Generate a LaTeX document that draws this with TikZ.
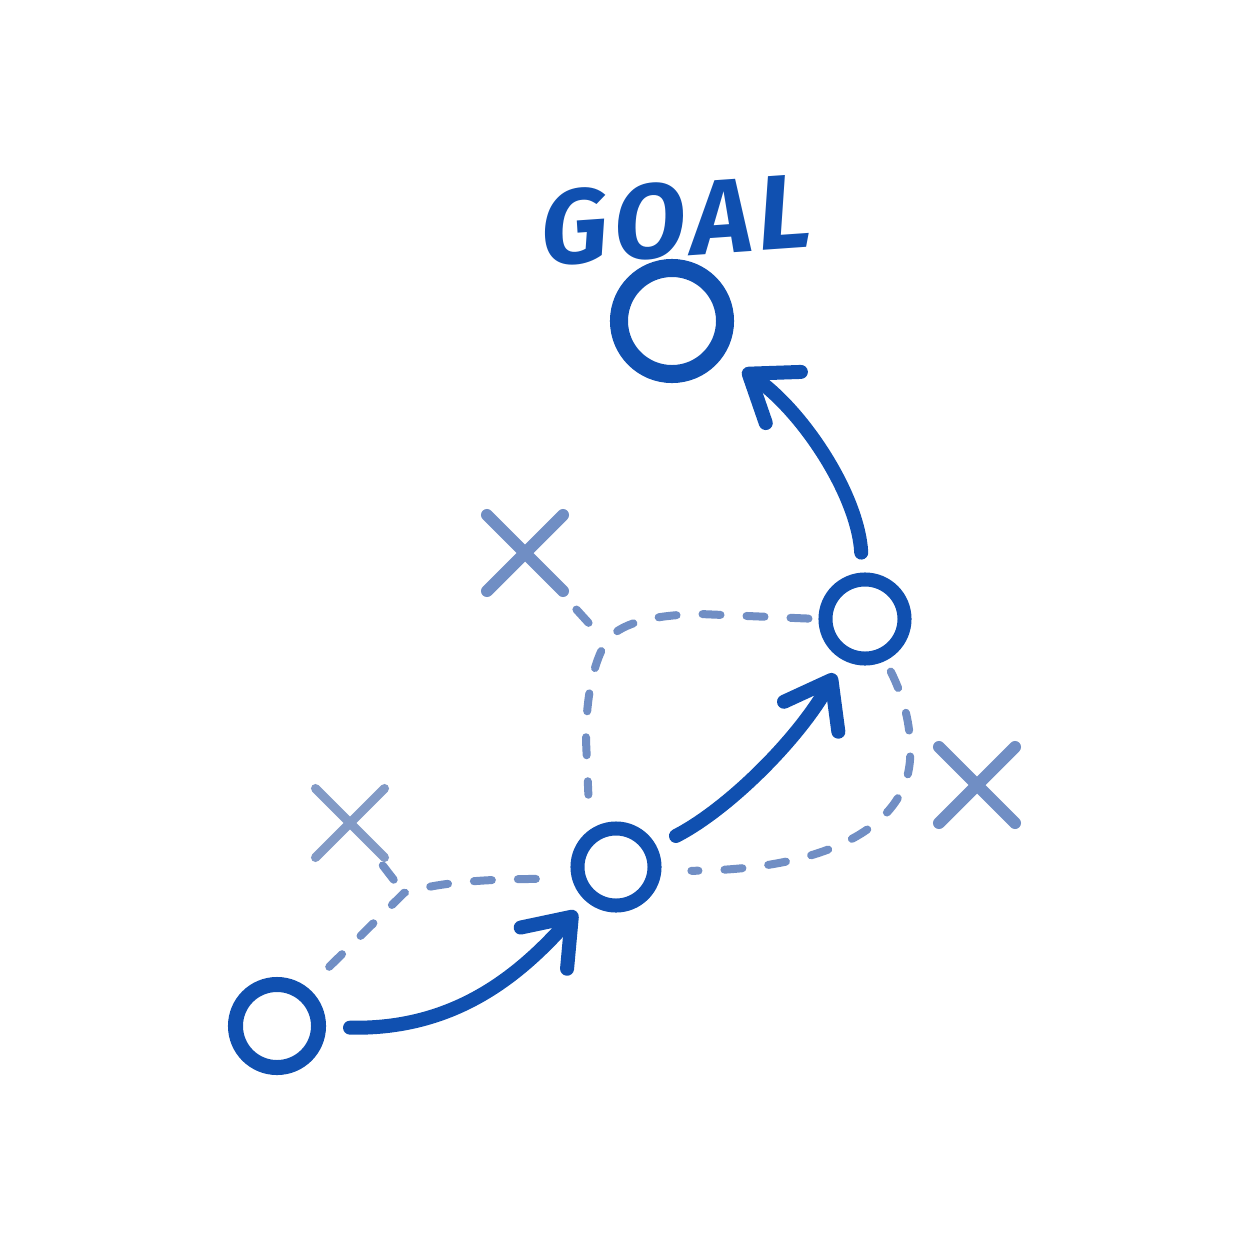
\documentclass[tikz,border=0pt]{standalone}
\usepackage{fontspec}
\setmainfont{Fira Sans}
\newfontfamily\goalfont[LetterSpace=6]{Fira Sans}
\usetikzlibrary{arrows.meta,shapes.misc}
\definecolor{ink}{RGB}{16,80,176}
\definecolor{pale}{RGB}{112,142,196}
\definecolor{paler}{RGB}{130,154,198}
\begin{document}
\begin{tikzpicture}[x=0.01cm,y=-0.01cm,
  ring/.style={circle,draw=ink,inner sep=0pt},
  crossmark/.style={cross out,draw=pale,line width=0.12cm,minimum size=0.64cm,inner sep=0pt,line cap=round},
  move/.style={draw=ink,line width=0.14cm,line cap=round,-{Straight Barb[length=0.42cm,width=0.62cm,round]}},
  guide/.style={draw=pale,line width=0.08cm,line cap=round,dash pattern=on 0.18cm off 0.26cm}
]
\useasboundingbox (0,0) rectangle (1254,1254);
\fill[white] (0,0) rectangle (1254,1254);

% text
\node[rotate=4,text=ink,inner sep=0pt] (goaltxt) at (676,220)
  {\goalfont\fontsize{30pt}{30pt}\selectfont\bfseries\itshape GOAL};

% rings
\node[ring,line width=0.18cm,minimum size=1.06cm] (goal) at (672,321) {};
\node[ring,line width=0.14cm,minimum size=0.79cm] (c2) at (865,619) {};
\node[ring,line width=0.14cm,minimum size=0.77cm] (c3) at (616,867) {};
\node[ring,line width=0.15cm,minimum size=0.83cm] (c4) at (277,1026) {};

% crosses
\node[crossmark] (x1) at (525,553) {};
\node[crossmark] (x3) at (977,785) {};
\node[crossmark,draw=paler,line width=0.09cm,minimum size=0.6cm] (x2) at (350,823) {};

% junctions
\coordinate (j1) at (606,642);
\coordinate (j2) at (404,893);

% dashed guides
\draw[guide,shorten <=0.1cm,shorten >=0.35cm] (c2.180) -- (700,614) .. controls (650,615) and (618,624) .. (j1) .. controls (594,662) and (586,695) .. (586,740) -- (c3.125);
\draw[guide,shorten <=0.25cm] (x1) -- (j1);
\draw[guide,shorten <=0.3cm,shorten >=0.25cm] (c4.51) -- (j2) .. controls (440,882) and (485,879) .. (c3.195);
\draw[guide,shorten <=0.1cm] (x2) -- (j2);
\draw[guide,shorten <=0.12cm,shorten >=0.3cm] (c2.-64) .. controls (905,700) and (912,730) .. (910,760) .. controls (905,830) and (820,870) .. (c3.-5);

% moves
\draw[move,shorten <=0.24cm,shorten >=0.14cm] (c4) .. controls (455,1030) and (520,975) .. (c3);
\draw[move,shorten <=0.22cm,shorten >=0.16cm] (c3) .. controls (730,808) and (800,737) .. (c2);
\draw[move,shorten <=0.2cm,shorten >=0.24cm] (c2) .. controls (858,495) and (803,411) .. (goal);
\end{tikzpicture}
\end{document}
